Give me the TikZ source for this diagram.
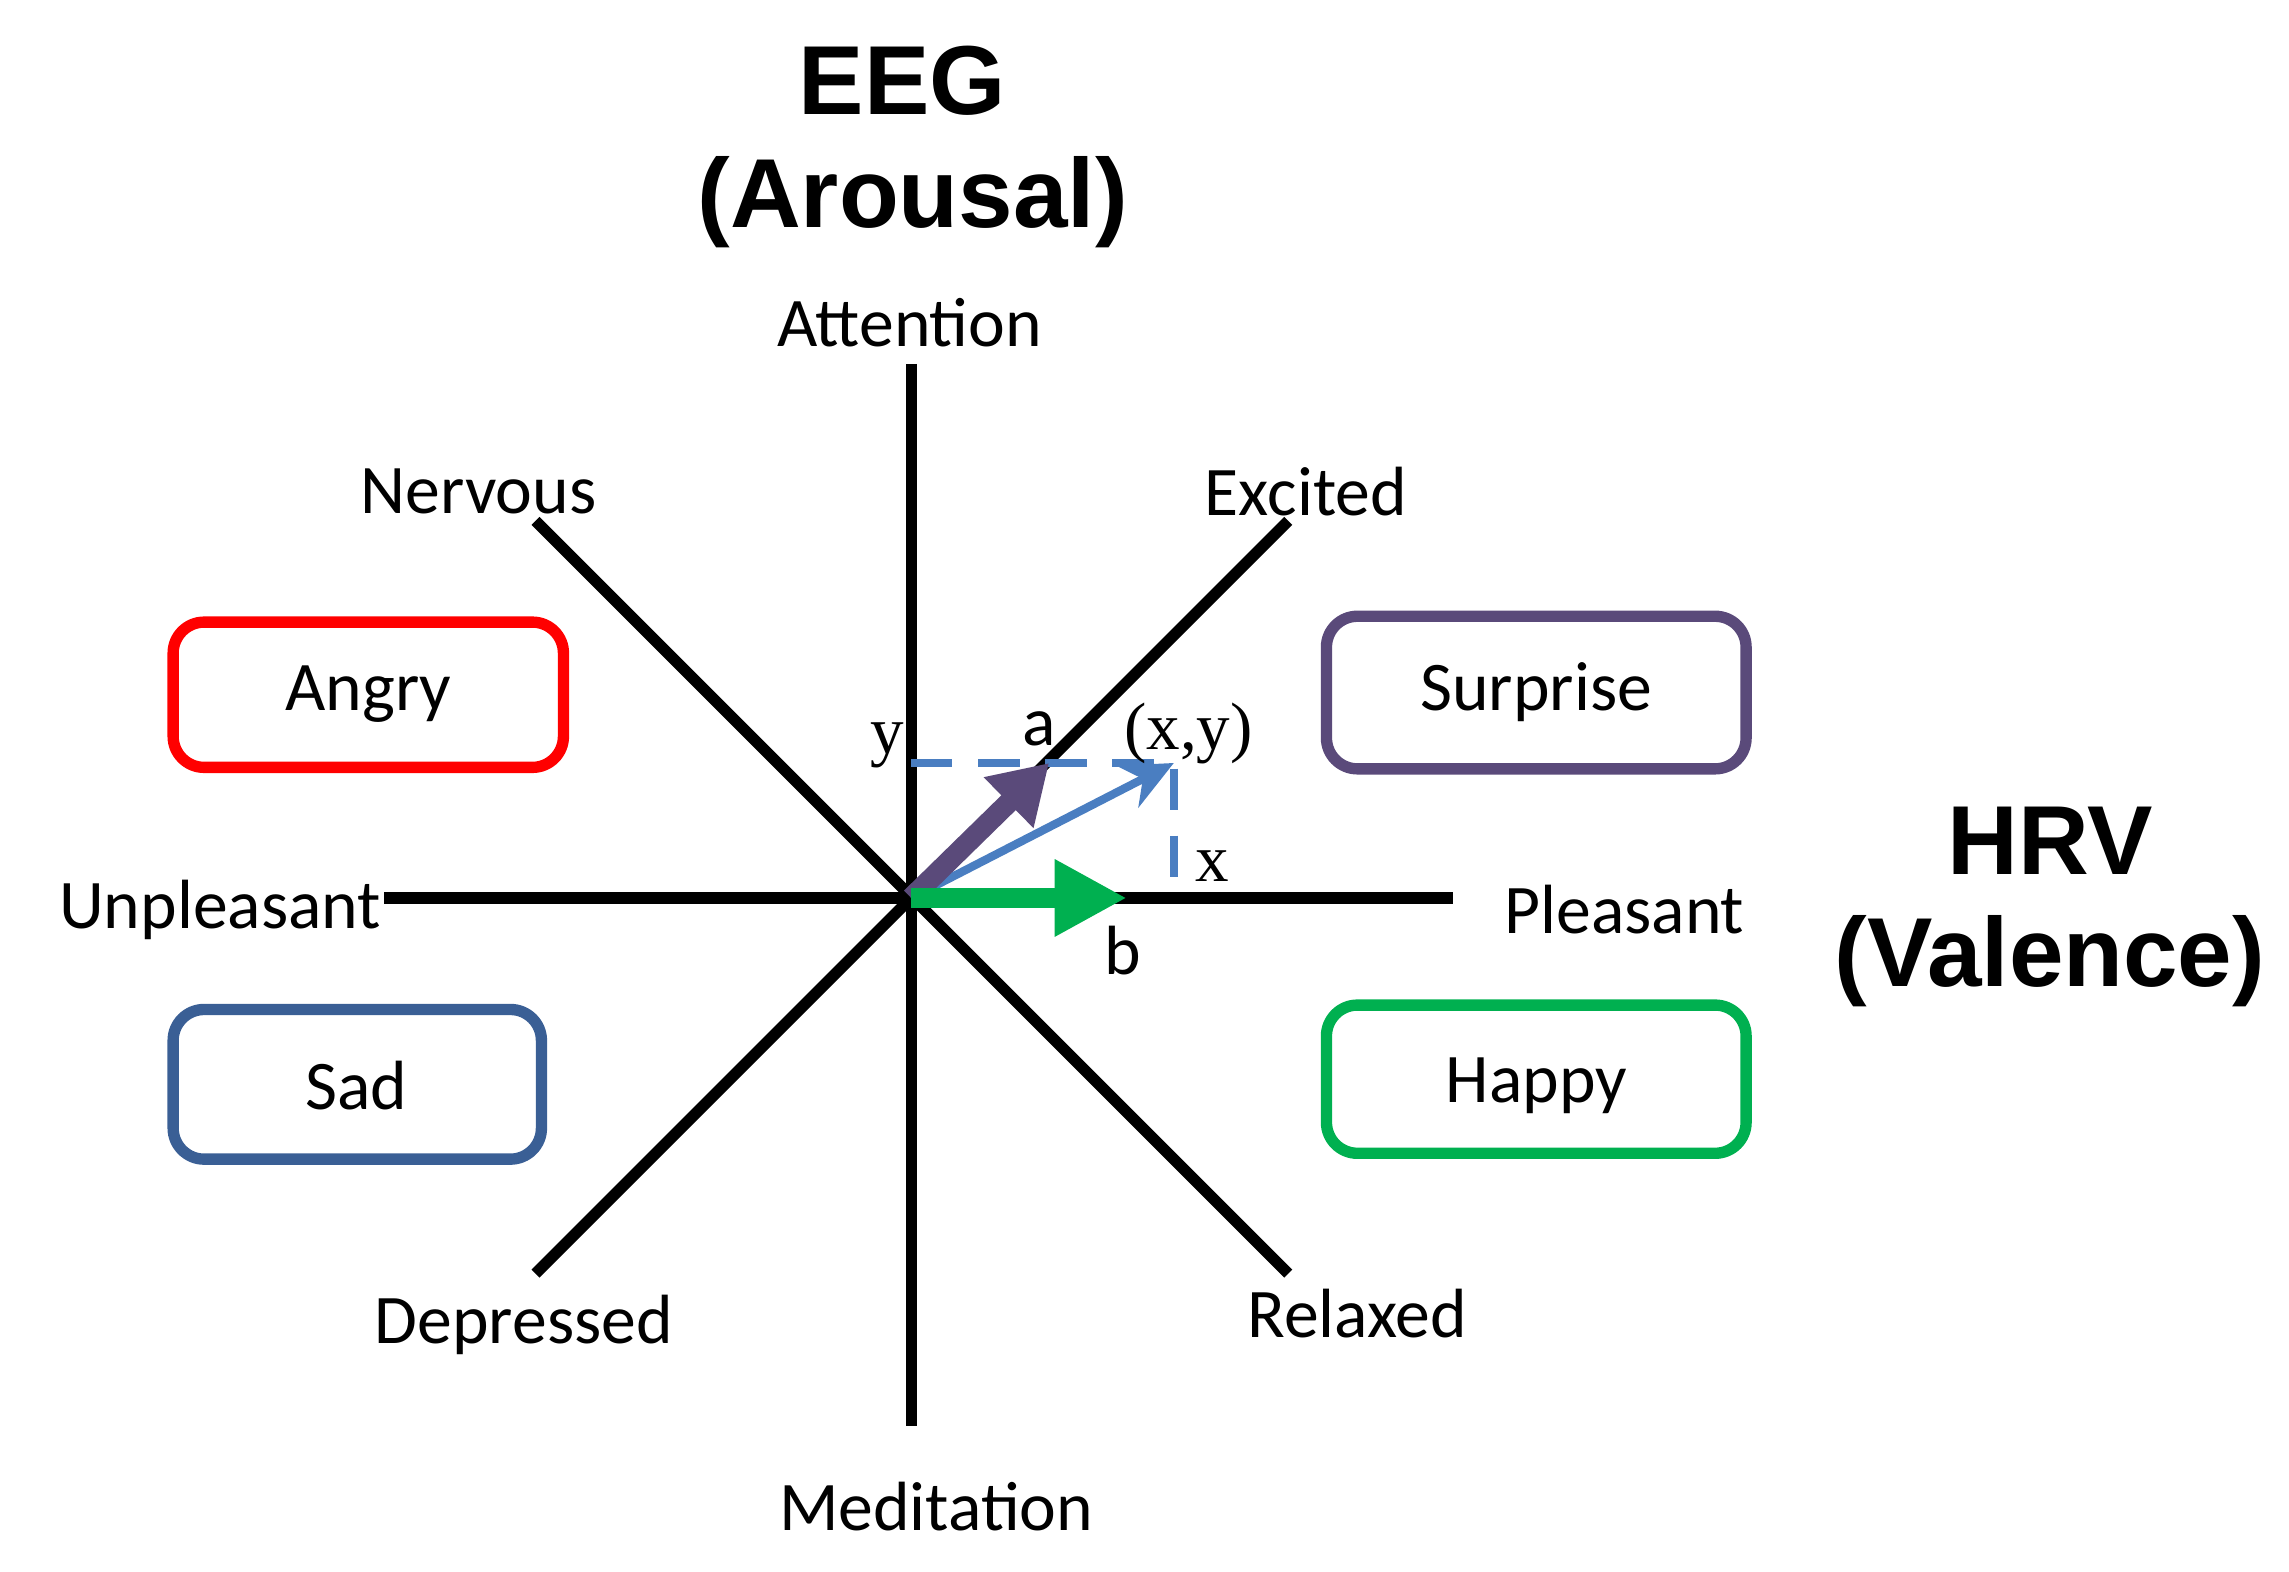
\documentclass[tikz,border=0pt]{standalone}
\usetikzlibrary{arrows.meta}
\usepackage{fontspec}
\setmainfont{Carlito}
\newfontfamily\ttl{Liberation Sans}
\newfontfamily\srf{Liberation Serif}
\begin{document}
\begin{tikzpicture}[x=0.01cm,y=-0.01cm,
  ax/.style={line width=2.2pt,black},
  lab/.style={font=\fontsize{13.5}{15}\selectfont},
  sl/.style={font=\srf\fontsize{13}{15}\selectfont},
  tit/.style={font=\ttl\bfseries\fontsize{19}{21}\selectfont},
  box/.style={draw,line width=2.2pt,rounded corners=6pt,minimum width=#1},
]
\useasboundingbox (0,0) rectangle (1560,1071);
\coordinate (o) at (621,612);
\coordinate (t) at (621,248); \coordinate (bt) at (621,972);
\coordinate (l) at (262,612); \coordinate (r) at (990,612);
\coordinate (nw) at (365,355); \coordinate (ne) at (878,355);
\coordinate (sw) at (365,868); \coordinate (se) at (878,868);
\draw[ax] (t)--(bt); \draw[ax] (l)--(r);
\draw[ax] (nw)--(se); \draw[ax] (ne)--(sw);
\node[tit] (eeg) at (615,55) {EEG};
\node[tit] (aro) at (622,138) {(Arousal)};
\node[tit] (hrv) at (1397,573) {HRV};
\node[tit] (val) at (1397,655) {(Valence)};
\node[lab] (att) at (620,220) {Attention};
\node[lab] (ner) at (326,335) {Nervous};
\node[lab] (exc) at (890,335) {Excited};
\node[lab] (unp) at (150,620) {Unpleasant};
\node[lab] (ple) at (1107,620) {Pleasant};
\node[lab] (dep) at (357,903) {Depressed};
\node[lab] (rel) at (925,895) {Relaxed};
\node[lab] (med) at (638,1027) {Meditation};
\draw[box, red] (118,424) rectangle (384,523);
\node[lab] (angry) at (251,473) {Angry};
\draw[box, color={rgb,255:red,90;green,74;blue,122}] (904,420) rectangle (1190,524);
\node[lab] (sur) at (1047,472) {Surprise};
\draw[box, color={rgb,255:red,58;green,95;blue,149}] (118,688) rectangle (369,790);
\node[lab] (sad) at (243,740) {Sad};
\draw[box, color={rgb,255:red,0;green,176;blue,80}] (904,685) rectangle (1190,786);
\node[lab] (hap) at (1047,740) {Happy};
\coordinate (xy) at (800,520); \coordinate (ya) at (621,520); \coordinate (xa) at (800,612);
\draw[line width=1.6pt,dashed,dash pattern=on 8pt off 5pt,color={rgb,255:red,74;green,126;blue,193}] (ya)--(xy)--(xa);
\draw[line width=1.6pt,-{Stealth[length=10pt,width=9pt]},color={rgb,255:red,74;green,126;blue,193}] (o)--(xy);
\draw[line width=4pt,-{Triangle[length=11pt,width=13pt]},color={rgb,255:red,90;green,74;blue,122}] (o)--(715,520);
\draw[line width=4pt,-{Triangle[length=14pt,width=14pt]},color={rgb,255:red,0;green,176;blue,80}] (o)--(768,612);
\node[sl] (ly) at (605,508) {y};
\node[lab] (la) at (708,497) {a};
\node[sl] (lxy) at (810,500) {(x,y)};
\node[sl] (lx) at (826,590) {x};
\node[lab] (lb) at (765,648) {b};
\end{tikzpicture}
\end{document}
